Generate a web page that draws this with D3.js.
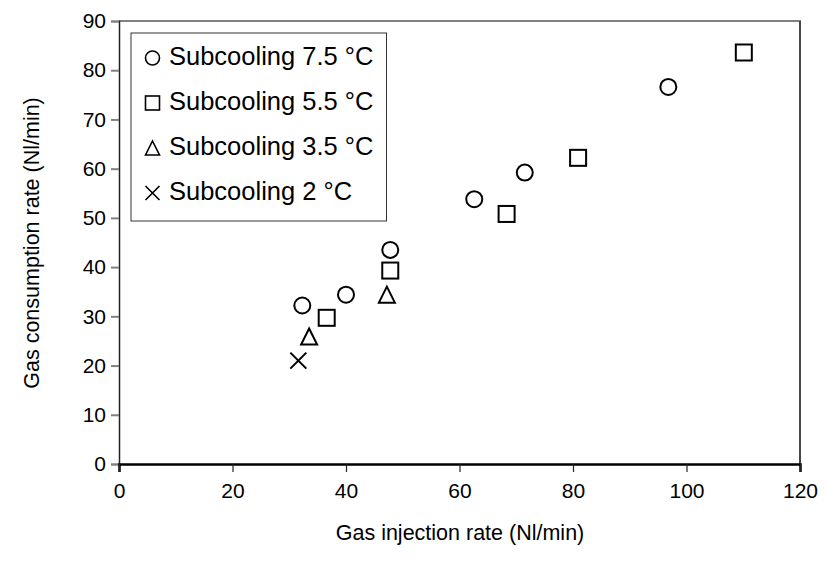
<!DOCTYPE html>
<html>
<head>
<meta charset="utf-8">
<script src="https://cdn.jsdelivr.net/npm/d3@7"></script>
<style>
html,body{margin:0;padding:0;background:#fff;}
svg{display:block;font-family:Arial,"Liberation Sans",sans-serif;}
</style>
</head>
<body>
<svg id="chart" width="827" height="564"></svg>
<script>
// Data
const seriesNames = ["Subcooling 7.5 °C", "Subcooling 5.5 °C", "Subcooling 3.5 °C", "Subcooling 2 °C"];
const seriesSymbols = ["circle", "square", "triangle", "cross"];
const sub75x = [32.3, 40.0, 47.8, 62.6, 71.5, 96.8];
const sub75y = [32.2, 34.4, 43.5, 53.8, 59.2, 76.6];
const sub55x = [36.6, 47.8, 68.3, 80.9, 110.1];
const sub55y = [29.7, 39.3, 50.8, 62.2, 83.6];
const sub35x = [33.5, 47.2];
const sub35y = [25.9, 34.4];
const sub2x = [31.6];
const sub2y = [21.0];
const xTicks = [0, 20, 40, 60, 80, 100, 120];
const yTicks = [0, 10, 20, 30, 40, 50, 60, 70, 80, 90];
const xTitle = "Gas injection rate (Nl/min)";
const yTitle = "Gas consumption rate (Nl/min)";

const seriesX = [sub75x, sub55x, sub35x, sub2x];
const seriesY = [sub75y, sub55y, sub35y, sub2y];

const svg = d3.select("#chart");
const m = {left: 119, right: 800, top: 21, bottom: 464};
const x = d3.scaleLinear().domain([0, 120]).range([m.left, m.right]);
const y = d3.scaleLinear().domain([0, 90]).range([m.bottom, m.top]);

// plot border (top/right)
svg.append("path")
  .attr("d", `M${m.left},${m.top}H${m.right}V${m.bottom}`)
  .attr("fill", "none").attr("stroke", "#808080").attr("stroke-width", 2);
svg.append("line").attr("x1", m.right).attr("x2", m.right).attr("y1", m.top).attr("y2", m.bottom)
  .attr("stroke", "#333").attr("stroke-width", 1.5);

// y axis
const yAx = svg.append("g").attr("transform", `translate(${m.left},0)`)
  .call(d3.axisLeft(y).tickValues(yTicks).tickSize(8).tickPadding(5).tickFormat(d3.format("d")));
yAx.select(".domain").attr("stroke", "#222").attr("stroke-width", 1.5);
yAx.selectAll(".tick line").attr("stroke", "#808080").attr("stroke-width", 2);
yAx.selectAll(".tick text").attr("font-size", 21).attr("fill", "#000")
  .attr("font-family", "Arial, 'Liberation Sans', sans-serif");

// x axis
const xAx = svg.append("g").attr("transform", `translate(0,${m.bottom})`)
  .call(d3.axisBottom(x).tickValues(xTicks).tickSize(8).tickPadding(11).tickFormat(d3.format("d")));
xAx.select(".domain").attr("stroke", "#000").attr("stroke-width", 2.5);
xAx.selectAll(".tick line").attr("stroke", "#222").attr("stroke-width", 1.2);
xAx.selectAll(".tick text").attr("font-size", 21).attr("fill", "#000")
  .attr("font-family", "Arial, 'Liberation Sans', sans-serif");

// axis titles
svg.append("text").attr("x", 460).attr("y", 540).attr("text-anchor", "middle")
  .attr("font-size", 21.5).text(xTitle);
svg.append("text").attr("transform", "translate(39,243) rotate(-90)").attr("text-anchor", "middle")
  .attr("font-size", 21.5).text(yTitle);

// symbol drawing
function drawSymbol(g, type, cx, cy, s) {
  const h = s / 2;
  if (type === "circle") {
    g.append("circle").attr("cx", cx).attr("cy", cy).attr("r", h);
  } else if (type === "square") {
    g.append("rect").attr("x", cx - h).attr("y", cy - h).attr("width", s).attr("height", s);
  } else if (type === "triangle") {
    g.append("path").attr("d", `M${cx},${cy - h}L${cx + h},${cy + h}L${cx - h},${cy + h}Z`);
  } else {
    g.append("path").attr("d", `M${cx - h},${cy - h}L${cx + h},${cy + h}M${cx + h},${cy - h}L${cx - h},${cy + h}`);
  }
}

const pts = svg.append("g").attr("fill", "none").attr("stroke", "#000").attr("stroke-width", 2);
seriesX.forEach((xs, i) => {
  xs.forEach((v, j) => drawSymbol(pts, seriesSymbols[i], x(v), y(seriesY[i][j]), 16));
});

// legend
const lg = svg.append("g");
lg.append("rect").attr("x", 131).attr("y", 33).attr("width", 255.5).attr("height", 188)
  .attr("fill", "#fff").attr("stroke", "#333").attr("stroke-width", 1);
const lgm = lg.append("g").attr("fill", "none").attr("stroke", "#000").attr("stroke-width", 1.6);
seriesNames.forEach((name, i) => {
  const cy = 58 + i * 45;
  drawSymbol(lgm, seriesSymbols[i], 152.5, cy, 14);
  lg.append("text").attr("x", 169).attr("y", 64.5 + i * 45).attr("font-size", 25.5)
    .attr("fill", "#000").text(name);
});
</script>
</body>
</html>
